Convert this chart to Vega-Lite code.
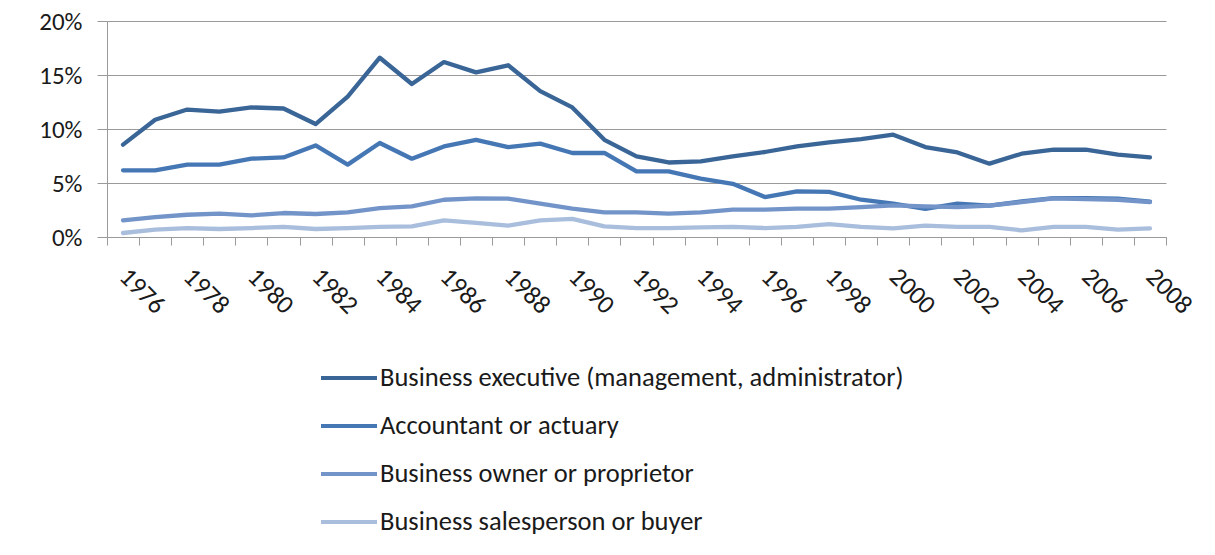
{
  "$schema": "https://vega.github.io/schema/vega-lite/v6.json",
  "autosize": {"type": "none"},
  "width": 1059,
  "height": 216,
  "padding": {"left": 107, "top": 21, "right": 49, "bottom": 318},
  "background": "white",
  "config": {
    "view": {"stroke": null},
    "font": "Carlito, Liberation Sans"
  },
  "datasets": {
    "rows": [
      {"year":1976,"exec":8.55,"acct":6.17,"owner":1.54,"sales":0.37},
      {"year":1977,"exec":10.86,"acct":6.17,"owner":1.85,"sales":0.68},
      {"year":1978,"exec":11.8,"acct":6.7,"owner":2.06,"sales":0.83},
      {"year":1979,"exec":11.6,"acct":6.7,"owner":2.16,"sales":0.74},
      {"year":1980,"exec":12.0,"acct":7.25,"owner":2.0,"sales":0.83},
      {"year":1981,"exec":11.9,"acct":7.37,"owner":2.22,"sales":0.93},
      {"year":1982,"exec":10.46,"acct":8.48,"owner":2.13,"sales":0.74},
      {"year":1983,"exec":13.0,"acct":6.7,"owner":2.28,"sales":0.83},
      {"year":1984,"exec":16.6,"acct":8.7,"owner":2.68,"sales":0.93},
      {"year":1985,"exec":14.17,"acct":7.25,"owner":2.83,"sales":0.98},
      {"year":1986,"exec":16.2,"acct":8.39,"owner":3.45,"sales":1.54},
      {"year":1987,"exec":15.24,"acct":9.0,"owner":3.57,"sales":1.3},
      {"year":1988,"exec":15.9,"acct":8.33,"owner":3.55,"sales":1.05},
      {"year":1989,"exec":13.5,"acct":8.64,"owner":3.08,"sales":1.54},
      {"year":1990,"exec":12.0,"acct":7.78,"owner":2.62,"sales":1.67},
      {"year":1991,"exec":9.0,"acct":7.78,"owner":2.28,"sales":0.98},
      {"year":1992,"exec":7.46,"acct":6.07,"owner":2.28,"sales":0.83},
      {"year":1993,"exec":6.9,"acct":6.07,"owner":2.16,"sales":0.83},
      {"year":1994,"exec":7.0,"acct":5.4,"owner":2.28,"sales":0.9},
      {"year":1995,"exec":7.46,"acct":4.93,"owner":2.53,"sales":0.93},
      {"year":1996,"exec":7.87,"acct":3.7,"owner":2.53,"sales":0.83},
      {"year":1997,"exec":8.39,"acct":4.22,"owner":2.62,"sales":0.93},
      {"year":1998,"exec":8.76,"acct":4.17,"owner":2.62,"sales":1.2},
      {"year":1999,"exec":9.07,"acct":3.45,"owner":2.77,"sales":0.93},
      {"year":2000,"exec":9.47,"acct":3.08,"owner":2.93,"sales":0.8},
      {"year":2001,"exec":8.33,"acct":2.6,"owner":2.83,"sales":1.05},
      {"year":2002,"exec":7.83,"acct":3.08,"owner":2.77,"sales":0.93},
      {"year":2003,"exec":6.79,"acct":2.9,"owner":2.9,"sales":0.93},
      {"year":2004,"exec":7.71,"acct":3.3,"owner":3.23,"sales":0.62},
      {"year":2005,"exec":8.08,"acct":3.6,"owner":3.57,"sales":0.93},
      {"year":2006,"exec":8.08,"acct":3.6,"owner":3.5,"sales":0.93},
      {"year":2007,"exec":7.62,"acct":3.55,"owner":3.45,"sales":0.68},
      {"year":2008,"exec":7.37,"acct":3.28,"owner":3.23,"sales":0.8}
    ]
  },
  "data": {"name": "rows"},
  "transform": [
    {"fold": ["exec", "acct", "owner", "sales"], "as": ["key", "pct"]},
    {"lookup": "key", "from": {"data": {"values": [
      {"key": "exec", "series": "Business executive (management, administrator)"},
      {"key": "acct", "series": "Accountant or actuary"},
      {"key": "owner", "series": "Business owner or proprietor"},
      {"key": "sales", "series": "Business salesperson or buyer"}
    ]}, "key": "key", "fields": ["series"]}},
    {"calculate": "datum.pct / 100", "as": "share"}
  ],
  "mark": {"type": "line", "strokeWidth": 4.3, "strokeJoin": "round", "strokeCap": "round"},
  "encoding": {
    "x": {
      "field": "year", "type": "ordinal", "bandPosition": 0.5,
      "scale": {"type": "band", "paddingInner": 0, "paddingOuter": 0},
      "axis": {
        "title": null, "tickBand": "extent", "domainColor": "#9a9a9a", "tickColor": "#9a9a9a",
        "tickSize": 8, "labelAngle": 45, "labelAlign": "left", "labelBaseline": "middle",
        "labelPadding": 27, "labelFontSize": 26, "labelColor": "#1a1a1a",
        "labelExpr": "datum.value % 2 == 0 ? datum.value : ''", "labelOverlap": false,
        "grid": false
      }
    },
    "y": {
      "field": "share", "type": "quantitative",
      "scale": {"domain": [0, 0.2], "nice": false},
      "axis": {
        "title": null, "values": [0, 0.05, 0.1, 0.15, 0.2], "format": ".0%",
        "domainColor": "#9a9a9a", "tickColor": "#9a9a9a", "tickSize": 10,
        "gridColor": "#9a9a9a", "labelPadding": 15, "labelFontSize": 25, "labelColor": "#1a1a1a"
      }
    },
    "color": {
      "field": "series", "type": "nominal",
      "sort": ["Business executive (management, administrator)", "Accountant or actuary", "Business owner or proprietor", "Business salesperson or buyer"],
      "scale": {"range": ["#3A6597", "#4577B5", "#7394C9", "#A9BEDD"]},
      "legend": {
        "title": null, "orient": "none", "legendX": 212, "legendY": 327,
        "symbolType": "stroke", "symbolSize": 3136, "symbolStrokeWidth": 4,
        "labelFontSize": 26.5, "labelColor": "#1a1a1a", "labelOffset": 1,
        "rowPadding": 4, "labelLimit": 800
      }
    }
  }
}
